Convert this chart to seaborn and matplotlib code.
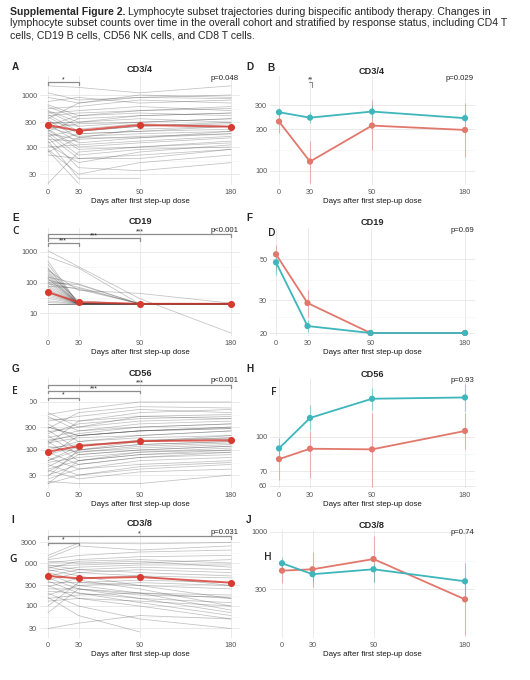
import numpy as np
import pandas as pd
import matplotlib
matplotlib.use("Agg")
import matplotlib.pyplot as plt
import matplotlib.transforms as mtrans
from matplotlib.patches import Rectangle
from matplotlib.ticker import FixedLocator, NullFormatter
import seaborn as sns

nan = np.nan
days = [0, 30, 90, 180]

# ---- individual patient trajectories (cells/uL) at days 0 / 30 / 90 / 180
cd4_d0 = [1500, 1100, 900, 750, 650, 600, 550, 500, 480, 450, 420, 400, 380, 350, 330, 300, 290, 280, 260, 250,
          240, 230, 220, 210, 200, 190, 180, 170, 160, 150, 140, 130, 120, 110, 100, 90, 85, 80, 70, 20]
cd4_d30 = [1400, 800, 700, 900, 400, 350, 600, 300, 250, 500, 200, 450, 180, 700, 150, 250, 300, 120, 400, 200,
           160, 280, 100, 90, 350, 70, 140, 60, 220, 40, 130, 25, 180, 50, 110, 30, 20, 150, 60, 80]
cd4_d90 = [1100, 900, 1000, 700, 500, nan, 800, 400, 300, 600, 250, 500, 200, 900, 150, nan, 350, 150, 450, 250,
           180, 300, 120, 100, 400, 90, 160, 60, 280, 35, nan, 25, 200, 80, 130, 50, nan, 220, 70, 100]
cd4_d180 = [1500, 1000, 900, 800, 600, nan, 700, 450, 350, 500, 280, 550, 250, 850, 200, nan, 300, 180, 400, 300,
            200, 350, 150, 130, 450, 100, 180, 90, 250, 50, nan, nan, 220, 110, 160, 70, nan, 250, 90, 120]

cd19_d0 = [1100, 700, 500, 400, 300, 280, 250, 230, 200, 180, 160, 150, 140, 130, 120, 110, 100, 95, 90, 80,
           75, 70, 60, 55, 50, 45, 40, 35, 30, 25, 22, 20, 20, 20]
cd19_d30 = [nan, 300, 20, 20, 22, 20, 55, 20, 25, 20, 20, 90, 20, 20, 70, 20, 85, 20, 60, 20,
            65, 20, 20, 20, 20, 20, 20, 20, 20, 20, 20, 20, 20, 20]
cd19_d90 = [30, 20, nan, 20, 20, nan, 44, 20, 20, 20, nan, 20, 20, 20, 20, 20, 20, 20, 20, 20,
            20, 20, nan, 20, 20, 20, nan, 20, 20, 20, 20, 20, 20, 20]
cd19_d180 = [2.2, nan, nan, 20, nan, nan, 21, 20, 20, nan, nan, 20, nan, 20, 20, 20, nan, 20, 20, nan,
             20, 20, nan, 20, nan, 20, nan, 20, 20, nan, 20, 20, 20, 20]

cd56_d0 = [600, 550, 500, 450, 400, 350, 300, 280, 260, 240, 220, 200, 180, 160, 150, 140, 130, 120, 110, 100,
           90, 80, 75, 70, 60, 55, 50, 45, 40, 38, 35, 30, 28, 25, 22, 20, 20, 60, 150, 300]
cd56_d30 = [300, 700, 250, 400, 500, 150, 200, 600, 100, 300, 350, 80, 250, 200, 60, 180, 400, 90, 130, 150,
            50, 120, 200, 40, 100, 70, 30, 90, 60, 25, 80, 50, 100, 40, 20, 60, 30, 120, 220, 200]
cd56_d90 = [500, 1000, 300, 600, 700, 200, 250, 800, 150, 400, 450, 100, 350, 250, 80, 200, 500, 120, 150, 180,
            70, 150, 250, 60, 130, 90, 40, 110, 80, 35, 100, 70, 130, 50, 20, 90, 45, 160, 300, 250]
cd56_d180 = [450, 1000, 350, 700, 600, 250, 300, 750, 200, 450, 500, 120, 400, 300, 100, 250, 550, 140, 180, 200,
             90, 170, 280, 70, 150, 100, 50, 130, 90, 40, 120, 80, 150, 60, 30, 110, 55, 180, 350, 280]

cd8_d0 = [1500, 1300, 1200, 1100, 1000, 900, 850, 800, 750, 700, 650, 600, 550, 500, 450, 400, 380, 350, 300, 280,
          250, 220, 200, 180, 160, 150, 130, 100, 70, 30]
cd8_d30 = [2900, 2500, 1500, 1000, 1200, 700, 900, 600, 1100, 500, 800, 400, 300, 700, 250, 600, 200, 350, 150, 450,
           250, 200, 100, 300, 60, 180, 150, 350, 250, 40]
cd8_d90 = [2800, 2000, 1800, 1100, 1400, 800, 1000, 500, 1200, 300, 900, 250, 200, 600, 150, 700, 120, 400, 100, 500,
           200, 150, 50, 350, 25, 200, 130, 300, 180, 60]
cd8_d180 = [3000, 2500, 2000, 800, 1500, 700, 1200, 300, 1000, 150, 900, 100, 80, 500, 70, 600, 60, 350, 50, 450,
            150, 120, 30, 300, nan, 180, 100, 250, 160, 50]

# ---- cohort mean trajectories
cd4_mean = [265, 206, 265, 246]
cd19_mean = [48, 22.6, 20, 20]
cd56_mean = [92, 121, 153, 160]
cd8_mean = [499, 441, 472, 349]

# ---- by response status: non-responders (red) / responders (teal), mean with interval
cd4_nr, cd4_nr_lo, cd4_nr_hi = [228, 117, 213, 198], [188, 82, 142, 127], [260, 165, 324, 310]
cd4_r, cd4_r_lo, cd4_r_hi = [266, 243, 269, 241], [246, 223, 242, 226], [286, 268, 300, 263]
cd19_nr, cd19_nr_lo, cd19_nr_hi = [53, 29, 20, 20], [43.7, 24.5, nan, nan], [59.4, 34, nan, nan]
cd19_r, cd19_r_lo, cd19_r_hi = [48, 21.8, 20, 20], [41, 20.3, nan, nan], [51, 23.5, nan, nan]
cd56_nr, cd56_nr_lo, cd56_nr_hi = [79.4, 88.5, 87.9, 106.5], [63.6, 65, 59.3, 88], [87, 106, 129, 129]
cd56_r, cd56_r_lo, cd56_r_hi = [88.8, 122, 149, 151], [81, 108, 133, 131], [99, 140, 167, 173]
cd8_nr, cd8_nr_lo, cd8_nr_hi = [442, 455, 565, 241], [340, 315, 350, 113], [553, 659, 918, 388]
cd8_r, cd8_r_lo, cd8_r_hi = [517, 410, 455, 353], [447, 349, 350, 238], [587, 468, 520, 520]

titles = ["CD3/4", "CD19", "CD56", "CD3/8"]
p_all = ["p=0.048", "p<0.001", "p<0.001", "p=0.031"]
p_resp = ["p=0.029", "p=0.69", "p=0.93", "p=0.74"]

sns.set_style("white")
plt.rcParams["font.family"] = ["Liberation Sans", "DejaVu Sans"]

W, H = 530, 680
fig = plt.figure(figsize=(W / 100, H / 100), dpi=100)

RED = "#D83A30"
NR_COL = "#E2776C"
R_COL = "#3DB6BC"
TICK_COL = "#555555"


def ftext(x, y, s, **kw):
    kw.setdefault("va", "center")
    return fig.text(x / W, 1 - y / H, s, **kw)


def make_ax(left, right, top, bottom):
    ax = fig.add_axes([left / W, 1 - bottom / H, (right - left) / W, (bottom - top) / H])
    ax.set_yscale("log")
    ax._px = (left, right, top, bottom)
    return ax


def finish(ax, x0px, x180px, ya, yb, yticks, xlab_y):
    left, right, top, bottom = ax._px
    k = (x180px - x0px) / 180
    ax.set_xlim((left - x0px) / k, 180 + (right - x180px) / k)
    (v1, p1), (v2, p2) = ya, yb
    dec = (p2 - p1) / (np.log10(v1) - np.log10(v2))
    ax.set_ylim(10 ** (np.log10(v2) - (bottom - p2) / dec), 10 ** (np.log10(v1) + (p1 - top) / dec))
    ax.set_xticks(days)
    ax.set_xticklabels([str(d) for d in days])
    ax.set_yticks(yticks)
    ax.set_yticklabels([str(v) for v in yticks])
    lg = np.log10(yticks)
    mids = list(10 ** ((lg[1:] + lg[:-1]) / 2))
    ax.yaxis.set_minor_locator(FixedLocator(mids))
    ax.yaxis.set_minor_formatter(NullFormatter())
    ax.grid(which="major", color="#E6E6E6", lw=0.6)
    ax.grid(which="minor", axis="y", color="#F3F3F3", lw=0.4)
    ax.set_axisbelow(True)
    ax.tick_params(which="both", length=0, labelsize=5.2, labelcolor=TICK_COL)
    ax.tick_params(axis="x", pad=3.0)
    ax.tick_params(axis="y", pad=2.0)
    sns.despine(ax=ax, left=True, bottom=True)
    ax.set_ylabel("")
    ax.set_xlabel("Days after first step-up dose", fontsize=5.7, color="#1A1A1A")
    ax.xaxis.label.set_va("center")
    ax.xaxis.set_label_coords(0.5, (bottom - xlab_y) / (bottom - top))


def spaghetti(ax, cols, mean):
    df = pd.DataFrame({d: v for d, v in zip(days, cols)})
    df["pid"] = range(len(df))
    long = df.melt(id_vars="pid", var_name="day", value_name="count").dropna()
    long["day"] = long["day"].astype(float)
    sns.lineplot(data=long, x="day", y="count", units="pid", estimator=None, color="#333333",
                 alpha=0.3, lw=0.55, ax=ax, legend=False)
    sns.lineplot(x=days, y=mean, estimator=None, color=RED, lw=1.4, alpha=0.8, ax=ax)
    sns.scatterplot(x=days, y=mean, color=RED, s=26, linewidth=0, ax=ax, zorder=5)


def response(ax, nr, nr_lo, nr_hi, r, r_lo, r_hi):
    df = pd.DataFrame({"day": days * 2, "mean": nr + r, "lo": nr_lo + r_lo, "hi": nr_hi + r_hi,
                       "group": ["NR"] * 4 + ["R"] * 4})
    pal = {"NR": NR_COL, "R": R_COL}
    for g, sub in df.groupby("group"):
        ax.vlines(sub["day"], sub["lo"], sub["hi"], color=pal[g], alpha=0.5, lw=0.8)
    sns.lineplot(data=df, x="day", y="mean", hue="group", palette=pal, estimator=None, lw=1.3,
                 ax=ax, legend=False)
    sns.scatterplot(data=df, x="day", y="mean", hue="group", palette=pal, s=20, linewidth=0,
                    ax=ax, legend=False, zorder=5)


def bracket(ax, x0, x1, ypx, label, drop=2.5):
    tr = mtrans.blended_transform_factory(ax.transData, fig.transFigure)
    y = 1 - ypx / H
    t = drop / H
    ax.plot([x0, x0, x1, x1], [y - t, y, y, y - t], transform=tr, color="#8C8C8C", lw=0.9,
            clip_on=False, scalex=False, scaley=False)
    ax.text((x0 + x1) / 2, 1 - (ypx - 2.2) / H, label, transform=tr, ha="center", va="center",
            fontsize=4.8, clip_on=False)


# rows: (top, bottom, title y, xlabel y)
rows = [(76, 185, 70, 202), (228, 336, 222, 353), (378, 488, 373, 504), (530, 638, 524, 655)]
left_cols = [(cd4_d0, cd4_d30, cd4_d90, cd4_d180), (cd19_d0, cd19_d30, cd19_d90, cd19_d180),
             (cd56_d0, cd56_d30, cd56_d90, cd56_d180), (cd8_d0, cd8_d30, cd8_d90, cd8_d180)]
left_means = [cd4_mean, cd19_mean, cd56_mean, cd8_mean]
left_y = [((1000, 95), (100, 147), [30, 100, 300, 1000]),
          ((1000, 252), (10, 313), [10, 100, 1000]),
          ((1000, 402), (100, 450), [30, 100, 300, 1000]),
          ((1000, 563), (100, 606), [30, 100, 300, 1000, 3000])]
right_data = [(cd4_nr, cd4_nr_lo, cd4_nr_hi, cd4_r, cd4_r_lo, cd4_r_hi),
              (cd19_nr, cd19_nr_lo, cd19_nr_hi, cd19_r, cd19_r_lo, cd19_r_hi),
              (cd56_nr, cd56_nr_lo, cd56_nr_hi, cd56_r, cd56_r_lo, cd56_r_hi),
              (cd8_nr, cd8_nr_lo, cd8_nr_hi, cd8_r, cd8_r_lo, cd8_r_hi)]
right_y = [((300, 105), (100, 171), [100, 200, 300]),
           ((50, 259), (20, 333), [20, 30, 50]),
           ((100, 437), (60, 486), [60, 70, 100]),
           ((1000, 532), (300, 589), [300, 1000])]
right_x0 = [279, 276, 279, 282]

for i, (top, bottom, ty, xly) in enumerate(rows):
    axl = make_ax(40, 240, top, bottom)
    spaghetti(axl, left_cols[i], left_means[i])
    ya, yb, yt = left_y[i]
    finish(axl, 48, 231, ya, yb, yt, xly)
    ftext(140, ty, titles[i], ha="center", fontsize=6.6, fontweight="bold")
    ftext(239, ty + 8, p_all[i], ha="right", fontsize=5.6)

    axr = make_ax(270, 475, top, bottom)
    response(axr, *right_data[i])
    ya, yb, yt = right_y[i]
    finish(axr, right_x0[i], 465, ya, yb, yt, xly)
    ftext(372, ty + 1, titles[i], ha="center", fontsize=6.6, fontweight="bold")
    ftext(474, ty + 8, p_resp[i], ha="right", fontsize=5.6)
    if i == 0:
        ax_a, ax_b = axl, axr
    elif i == 1:
        ax_c = axl
    elif i == 2:
        ax_e = axl
    else:
        ax_g = axl

# significance brackets (pairwise vs day 0)
bracket(ax_a, 0, 30, 82, "*")
bracket(ax_c, 0, 180, 234, "***")
bracket(ax_c, 0, 90, 238, "***")
bracket(ax_c, 0, 30, 243, "***")
bracket(ax_e, 0, 180, 385, "***")
bracket(ax_e, 0, 90, 391, "***")
bracket(ax_e, 0, 30, 397.5, "*")
bracket(ax_g, 0, 180, 536, "*")
bracket(ax_g, 0, 30, 542.5, "*")
trb = mtrans.blended_transform_factory(ax_b.transData, fig.transFigure)
ax_b.plot([29, 32, 32], [1 - 82 / H, 1 - 82 / H, 1 - 87 / H], transform=trb, color="#8C8C8C",
          lw=0.8, clip_on=False, scalex=False, scaley=False)
ax_b.text(30, 1 - 80 / H, "**", transform=trb, ha="center", va="center", fontsize=4.8, clip_on=False)

# pasted-over panel letters (white patches hide part of some tick labels)
fig.add_artist(Rectangle((5 / W, 1 - 407 / H), 25 / W, 22 / H, transform=fig.transFigure,
                         facecolor="white", edgecolor="none", zorder=10))
fig.add_artist(Rectangle((5 / W, 1 - 568 / H), 19.5 / W, 18 / H, transform=fig.transFigure,
                         facecolor="white", edgecolor="none", zorder=10))

main_letters = [("A", 12, 67), ("D", 246, 67), ("B", 267, 68),
                ("E", 12, 218), ("F", 246, 218),
                ("G", 12, 369), ("H", 246, 369),
                ("I", 11, 520), ("J", 246, 520)]
stray_letters = [("C", 12, 231), ("D", 268, 233), ("E", 12, 392), ("F", 271, 393),
                 ("G", 9, 559), ("H", 264, 557)]
for s, x, y in main_letters:
    ftext(x, y, s, ha="left", fontsize=7.2, fontweight="bold", zorder=11)
for s, x, y in stray_letters:
    ftext(x, y, s, ha="left", fontsize=7.4, fontweight="semibold", family=["Open Sans", "DejaVu Sans"],
          zorder=11)

# caption
cap_fs = 7.6
bold = ftext(10, 12, "Supplemental Figure 2.", fontsize=cap_fs, fontweight="bold")
fig.canvas.draw()
bw = bold.get_window_extent().width
ftext(10 + bw + 2, 12, "Lymphocyte subset trajectories during bispecific antibody therapy. Changes in",
      fontsize=cap_fs)
ftext(10, 23.5, "lymphocyte subset counts over time in the overall cohort and stratified by response status, "
      "including CD4 T", fontsize=cap_fs)
ftext(10, 35, "cells, CD19 B cells, CD56 NK cells, and CD8 T cells.", fontsize=cap_fs)

fig.savefig("out.png", dpi=100)
